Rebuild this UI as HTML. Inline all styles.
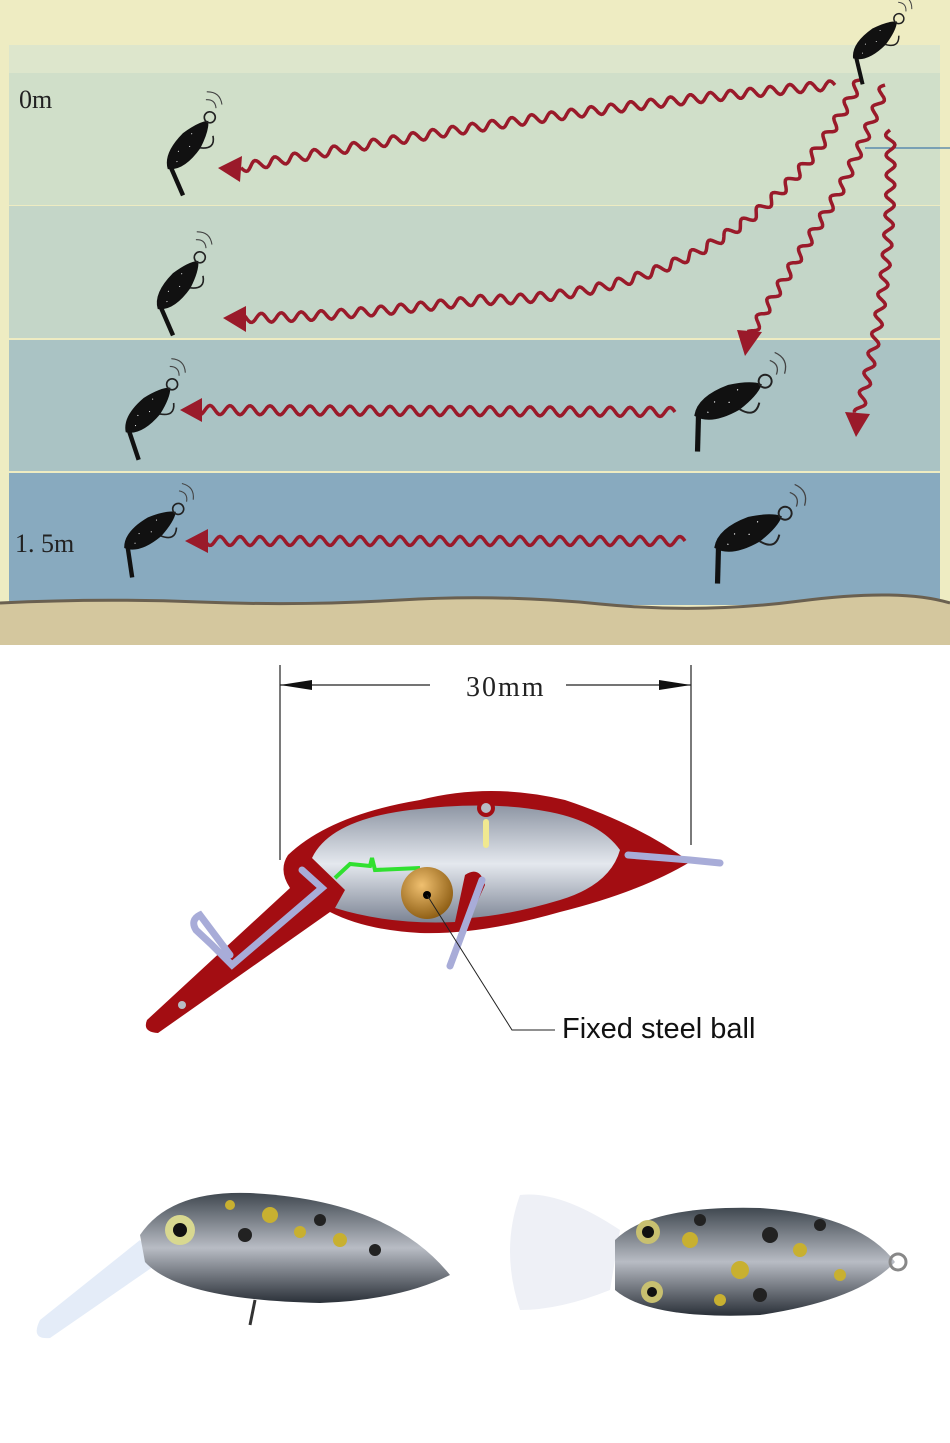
<!DOCTYPE html>
<html><head><meta charset="utf-8"><style>
html,body{margin:0;padding:0;background:#fff;}
svg{display:block}
</style></head><body>
<svg id="s" width="950" height="1443" viewBox="0 0 950 1443" xmlns="http://www.w3.org/2000/svg">
<defs>
<radialGradient id="ball" cx="0.4" cy="0.35" r="0.7"><stop offset="0" stop-color="#f0c070"/><stop offset="1" stop-color="#8a5a10"/></radialGradient>
<linearGradient id="cav" x1="0" y1="0" x2="0" y2="1"><stop offset="0" stop-color="#8e96a4"/><stop offset="0.5" stop-color="#e4e8ee"/><stop offset="1" stop-color="#7c8494"/></linearGradient>
<linearGradient id="fish" x1="0" y1="0" x2="0" y2="1"><stop offset="0" stop-color="#404850"/><stop offset="0.5" stop-color="#b8bcc4"/><stop offset="1" stop-color="#2a3038"/></linearGradient>
</defs>
<rect x="0" y="0" width="950" height="645" fill="#eeecc2"/>
<rect x="9" y="45" width="931" height="28" fill="#dde6cc"/>
<rect x="9" y="73" width="931" height="132" fill="#d0dfc9"/>
<rect x="9" y="206" width="931" height="132" fill="#c4d6c8"/>
<rect x="9" y="340" width="931" height="131" fill="#aac3c4"/>
<rect x="9" y="473" width="931" height="132" fill="#88aabf"/>
<path d="M0 603 Q100 598 200 602 T400 600 T600 604 T800 601 T950 603 L950 645 L0 645Z" fill="#d4c79e"/>
<path d="M0 603 Q100 598 200 602 T400 600 T600 604 T800 601 T950 603" fill="none" stroke="#6a6050" stroke-width="3"/>
<line x1="865" y1="148" x2="950" y2="148" stroke="#2060a0" stroke-width="1"/>
<text x="19" y="108" font-family="Liberation Serif,serif" font-size="26" fill="#222">0m</text>
<text x="15" y="552" font-family="Liberation Serif,serif" font-size="26" fill="#222">1. 5m</text>
<g id="waves" fill="none" stroke="#9a1a2a" stroke-width="3.5"></g>
<g id="heads" fill="#9a1a2a">
<polygon points="218,168 242,156 240,182"/>
<polygon points="223,318 246,306 246,332"/>
<polygon points="180,410 202,398 202,422"/>
<polygon points="185,541 208,529 208,553"/>
<polygon points="737,330 762,332 745,356"/>
<polygon points="845,412 870,414 856,437"/>
</g>
<g id="lures" fill="#111" stroke="#111"></g>
<g stroke="#222" stroke-width="1.2" fill="none">
<line x1="280" y1="665" x2="280" y2="860"/><line x1="691" y1="665" x2="691" y2="845"/>
<line x1="280" y1="685" x2="430" y2="685"/><line x1="566" y1="685" x2="691" y2="685"/>
</g>
<polygon points="280,685 312,680 312,690" fill="#111"/><polygon points="691,685 659,680 659,690" fill="#111"/>
<text x="466" y="696" font-family="Liberation Serif,serif" font-size="28" letter-spacing="2" fill="#222">30mm</text>
<path d="M288 855 Q330 815 420 800 Q490 782 565 800 Q640 825 690 862 Q640 892 560 912 Q480 935 420 933 Q365 930 330 912 L158 1033 Q142 1032 147 1020 L290 888 Q278 870 288 855Z" fill="#a30d12"/>
<path d="M312 858 Q330 820 410 810 Q490 800 550 812 Q600 822 620 850 Q610 885 560 900 Q510 915 470 918 L485 885 Q480 865 465 875 L455 922 Q390 925 335 908 L345 890 Z" fill="url(#cav)"/>
<path d="M335 878 L350 864 L370 866 L372 858 L375 870 L420 868" stroke="#30e030" stroke-width="4" fill="none"/>
<circle cx="486" cy="808" r="9" fill="#a30d12"/><circle cx="486" cy="808" r="5" fill="#b8bcc4"/>
<line x1="486" y1="822" x2="486" y2="845" stroke="#f0e890" stroke-width="6" stroke-linecap="round"/>
<circle cx="427" cy="893" r="26" fill="url(#ball)"/><circle cx="427" cy="895" r="4" fill="#000"/>
<g stroke="#a8acd8" stroke-width="7" fill="none" stroke-linecap="round">
<path d="M302 870 L322 888 L232 965 L212 945 L196 930 Q190 920 200 915 L230 955"/>
<path d="M482 880 L450 966"/>
<path d="M628 855 L690 860 L720 863"/>
</g>
<circle cx="182" cy="1005" r="4" fill="#b8bcc4"/>
<polyline points="427,895 512,1030 555,1030" fill="none" stroke="#222" stroke-width="1"/>
<text x="562" y="1038" font-family="Liberation Sans,sans-serif" font-size="29" fill="#111">Fixed steel ball</text>
<path d="M140 1240 L40 1320 Q30 1340 50 1338 L160 1262Z" fill="#e4ecf8"/>
<path d="M140 1235 Q170 1190 250 1193 Q390 1200 450 1275 Q400 1300 320 1303 Q180 1300 145 1262Z" fill="url(#fish)"/>
<g fill="#c8b030"><circle cx="270" cy="1215" r="8"/><circle cx="300" cy="1232" r="6"/><circle cx="340" cy="1240" r="7"/><circle cx="230" cy="1205" r="5"/></g>
<g fill="#222"><circle cx="245" cy="1235" r="7"/><circle cx="320" cy="1220" r="6"/><circle cx="375" cy="1250" r="6"/></g>
<circle cx="180" cy="1230" r="15" fill="#d8d890"/><circle cx="180" cy="1230" r="7" fill="#111"/>
<path d="M255 1300 L250 1325" stroke="#333" stroke-width="3"/>
<path d="M520 1195 Q560 1190 620 1230 L610 1290 Q560 1310 520 1310 Q500 1250 520 1195Z" fill="#eef0f6"/>
<path d="M615 1240 Q650 1205 760 1208 Q860 1215 895 1262 Q860 1300 760 1315 Q650 1320 615 1290Z" fill="url(#fish)"/>
<g fill="#c8b030"><circle cx="690" cy="1240" r="8"/><circle cx="740" cy="1270" r="9"/><circle cx="800" cy="1250" r="7"/><circle cx="840" cy="1275" r="6"/><circle cx="720" cy="1300" r="6"/></g>
<g fill="#222"><circle cx="700" cy="1220" r="6"/><circle cx="770" cy="1235" r="8"/><circle cx="820" cy="1225" r="6"/><circle cx="760" cy="1295" r="7"/></g>
<circle cx="648" cy="1232" r="12" fill="#c8c070"/><circle cx="648" cy="1232" r="6" fill="#111"/>
<circle cx="652" cy="1292" r="11" fill="#c8c070"/><circle cx="652" cy="1292" r="5" fill="#111"/>
<circle cx="898" cy="1262" r="8" fill="none" stroke="#888" stroke-width="3"/>
</svg>
<script>
var NS="http://www.w3.org/2000/svg";
function wave(d,amp,per){var p=document.createElementNS(NS,"path");p.setAttribute("d",d);var L=p.getTotalLength();var out="";for(var s=0;s<=L;s+=1.5){var a=p.getPointAtLength(s),b=p.getPointAtLength(Math.min(L,s+1));var dx=b.x-a.x,dy=b.y-a.y,n=Math.hypot(dx,dy)||1;var o=amp*Math.sin(s/per*2*Math.PI);var x=a.x-dy/n*o,y=a.y+dx/n*o;out+=(s?"L":"M")+x.toFixed(1)+" "+y.toFixed(1);}
var q=document.createElementNS(NS,"path");q.setAttribute("d",out);document.getElementById("waves").appendChild(q);}
wave("M835 85 Q540 110 240 168",4.5,20);
wave("M860 80 Q750 300 480 300 Q330 318 244 318",4.5,20);
wave("M885 85 Q870 130 840 190 Q790 270 750 335",4.5,20);
wave("M890 130 Q895 280 858 415",4.5,20);
wave("M675 412 L200 410",4.5,20);
wave("M685 541 L206 541",4.5,20);
function lure(x,y,s,r){var g=document.createElementNS(NS,"g");g.setAttribute("transform","translate("+x+" "+y+") rotate("+r+") scale("+s+")");
g.innerHTML='<path d="M-28 0 Q-20 -12 5 -10 Q22 -6 28 0 Q22 6 5 10 Q-20 12 -28 0Z" fill="#111"/><path d="M-26 2 L-38 26" stroke="#111" stroke-width="4"/><circle cx="32" cy="-1" r="5" fill="none" stroke="#222" stroke-width="1.5"/><path d="M5 10 q8 12 16 2" fill="none" stroke="#222" stroke-width="1.5"/><g fill="#fff"><circle cx="-10" cy="-3" r="1"/><circle cx="0" cy="2" r="1"/><circle cx="10" cy="-4" r="1"/><circle cx="-18" cy="2" r="1"/></g><path d="M42 -14 q6 6 0 12 M48 -18 q8 9 0 18" fill="none" stroke="#444" stroke-width="1"/>';
document.getElementById("lures").appendChild(g);}
lure(188,145,1.1,-50);lure(178,285,1.1,-50);lure(148,410,1.1,-45);lure(150,530,1.1,-35);
lure(728,400,1.3,-25);lure(748,532,1.3,-25);lure(875,40,1,-40);
</script>
</body></html>
